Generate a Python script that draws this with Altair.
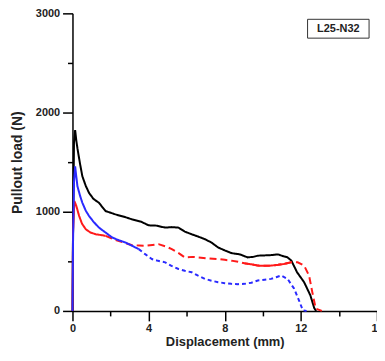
import altair as alt
import pandas as pd

black_x = [0, 0.02, 0.08, 0.14, 0.2, 0.26, 0.4, 0.52, 0.7, 0.87, 1.1, 1.39, 1.74, 2.26, 2.7, 3.13, 3.6, 4.0, 4.4, 4.87, 5.2, 5.57, 5.9, 6.26, 6.6, 6.96, 7.3, 7.65, 8.0, 8.35, 8.8, 9.2, 9.5, 9.74, 10.1, 10.43, 10.8, 11.1, 11.3, 11.5, 11.8, 12.17, 12.5, 12.7, 12.8]
black_y = [0, 600, 1700, 1823, 1720, 1640, 1480, 1357, 1260, 1190, 1130, 1090, 1007, 973, 950, 923, 900, 863, 860, 840, 845, 840, 800, 773, 750, 723, 690, 640, 610, 583, 570, 540, 545, 557, 560, 563, 570, 550, 540, 507, 390, 290, 157, 30, 0]

red_x = [0, 0.03, 0.1, 0.2, 0.35, 0.5, 0.7, 0.95, 1.22, 1.5, 1.74, 2.2, 2.7, 3.13, 3.5, 3.83, 4.2, 4.52, 4.9, 5.22, 5.6, 5.9, 6.3, 6.6, 7.1, 7.65, 8.0, 8.35, 8.7, 9.04, 9.4, 9.74, 10.1, 10.43, 10.8, 11.1, 11.48, 11.83, 12.17, 12.43, 12.6, 12.78, 13.1]
red_y = [0, 800, 1107, 1060, 957, 880, 823, 790, 773, 765, 757, 720, 690, 663, 660, 657, 665, 673, 650, 623, 580, 540, 545, 540, 530, 523, 515, 507, 495, 480, 470, 457, 455, 457, 465, 473, 490, 490, 457, 357, 190, 23, 0]

blue_x = [0, 0.03, 0.08, 0.14, 0.26, 0.4, 0.52, 0.7, 0.87, 1.1, 1.39, 1.74, 2.09, 2.4, 2.78, 3.1, 3.48, 3.8, 4.17, 4.5, 4.87, 5.2, 5.57, 5.9, 6.26, 6.6, 6.96, 7.3, 7.65, 8.0, 8.35, 8.7, 9.04, 9.4, 9.74, 10.1, 10.43, 10.7, 10.96, 11.3, 11.65, 11.9, 12.1, 12.3]
blue_y = [0, 700, 1300, 1457, 1257, 1160, 1090, 1010, 957, 900, 840, 790, 740, 715, 690, 660, 623, 575, 523, 505, 490, 455, 423, 405, 390, 355, 323, 305, 290, 280, 273, 270, 273, 285, 307, 315, 323, 340, 357, 323, 223, 107, 7, 0]

# segments: (series, x-range, style)
segments = [
    ("black", black_x, black_y, 0, 99, "solid", "black"),
    ("red_d", red_x, red_y, 1.6, 99, "dash", "red"),
    ("red_s1", red_x, red_y, 0, 1.8, "solid", "red"),
    ("red_s2", red_x, red_y, 9.0, 11.5, "solid", "red"),
    ("blue_d", blue_x, blue_y, 3.4, 99, "dot", "blue"),
    ("blue_s", blue_x, blue_y, 0, 3.5, "solid", "blue"),
]

rows = []
for seg, xs, ys, lo, hi, style, col in segments:
    for i, (xv, yv) in enumerate(zip(xs, ys)):
        if lo <= xv <= hi:
            rows.append({"x": xv, "y": yv, "seg": seg, "style": style, "col": col, "i": i})
df = pd.DataFrame(rows)

x_vals = [0, 2, 4, 6, 8, 10, 12, 14, 16]
y_vals = [0, 500, 1000, 1500, 2000, 2500, 3000]

x_axis = alt.Axis(
    values=x_vals, labelExpr="datum.value % 4 === 0 ? datum.label : ''",
    tickSize={"condition": {"test": "datum.value % 4 === 0", "value": 10}, "value": 5},
    grid=False, domainColor="black", domainWidth=1.5, tickColor="black", tickWidth=1.5,
    labelFont="Liberation Sans", labelFontWeight="bold", labelFontSize=11, labelColor="#222",
    labelPadding=2, titleFont="Liberation Sans", titleFontWeight="bold", titleFontSize=13,
    titleColor="#222", titlePadding=2, labelFlush=False, labelOverlap=False,
)
y_axis = alt.Axis(
    values=y_vals, labelExpr="datum.value % 1000 === 0 ? datum.label : ''", format="d",
    tickSize={"condition": {"test": "datum.value % 1000 === 0", "value": 10}, "value": 5},
    grid=False, domainColor="black", domainWidth=1.5, tickColor="black", tickWidth=1.5,
    labelFont="Liberation Sans", labelFontWeight="bold", labelFontSize=11, labelColor="#222",
    labelPadding=3, titleFont="Liberation Sans", titleFontWeight="bold", titleFontSize=14,
    titleColor="#222", titlePadding=11, labelFlush=False, labelOverlap=False,
)

lines = alt.Chart(df).mark_line(strokeWidth=2).encode(
    x=alt.X("x:Q", scale=alt.Scale(domain=[0, 16], nice=False, zero=False), axis=x_axis,
            title="Displacement (mm)"),
    y=alt.Y("y:Q", scale=alt.Scale(domain=[0, 3000], nice=False), axis=y_axis,
            title="Pullout load (N)"),
    color=alt.Color("col:N", scale=alt.Scale(domain=["black", "red", "blue"],
                                             range=["#000000", "#ff1a1a", "#2a2aff"]), legend=None),
    strokeDash=alt.StrokeDash("style:N", scale=alt.Scale(domain=["solid", "dash", "dot"],
                                                         range=[[1, 0], [7, 4], [4, 3]]), legend=None),
    detail="seg:N",
    order="i:Q",
)

label_df = pd.DataFrame({"t": ["L25-N32"]})
box = alt.Chart(label_df).mark_rect(fill="white", stroke="#333", strokeWidth=1).encode(
    x=alt.value(237), x2=alt.value(299), y=alt.value(6), y2=alt.value(25))
txt = alt.Chart(label_df).mark_text(font="Liberation Sans", fontWeight="bold", fontSize=11,
                                    color="#222").encode(
    x=alt.value(268), y=alt.value(16), text="t:N")

chart = alt.layer(lines, box, txt).properties(
    width=307, height=300, autosize=alt.AutoSizeParams(type="none"),
    padding={"left": 65, "top": 4, "right": 0, "bottom": 40},
).configure_view(stroke=None)

chart.save("out.html", embed_options={"renderer": "svg", "actions": False})
